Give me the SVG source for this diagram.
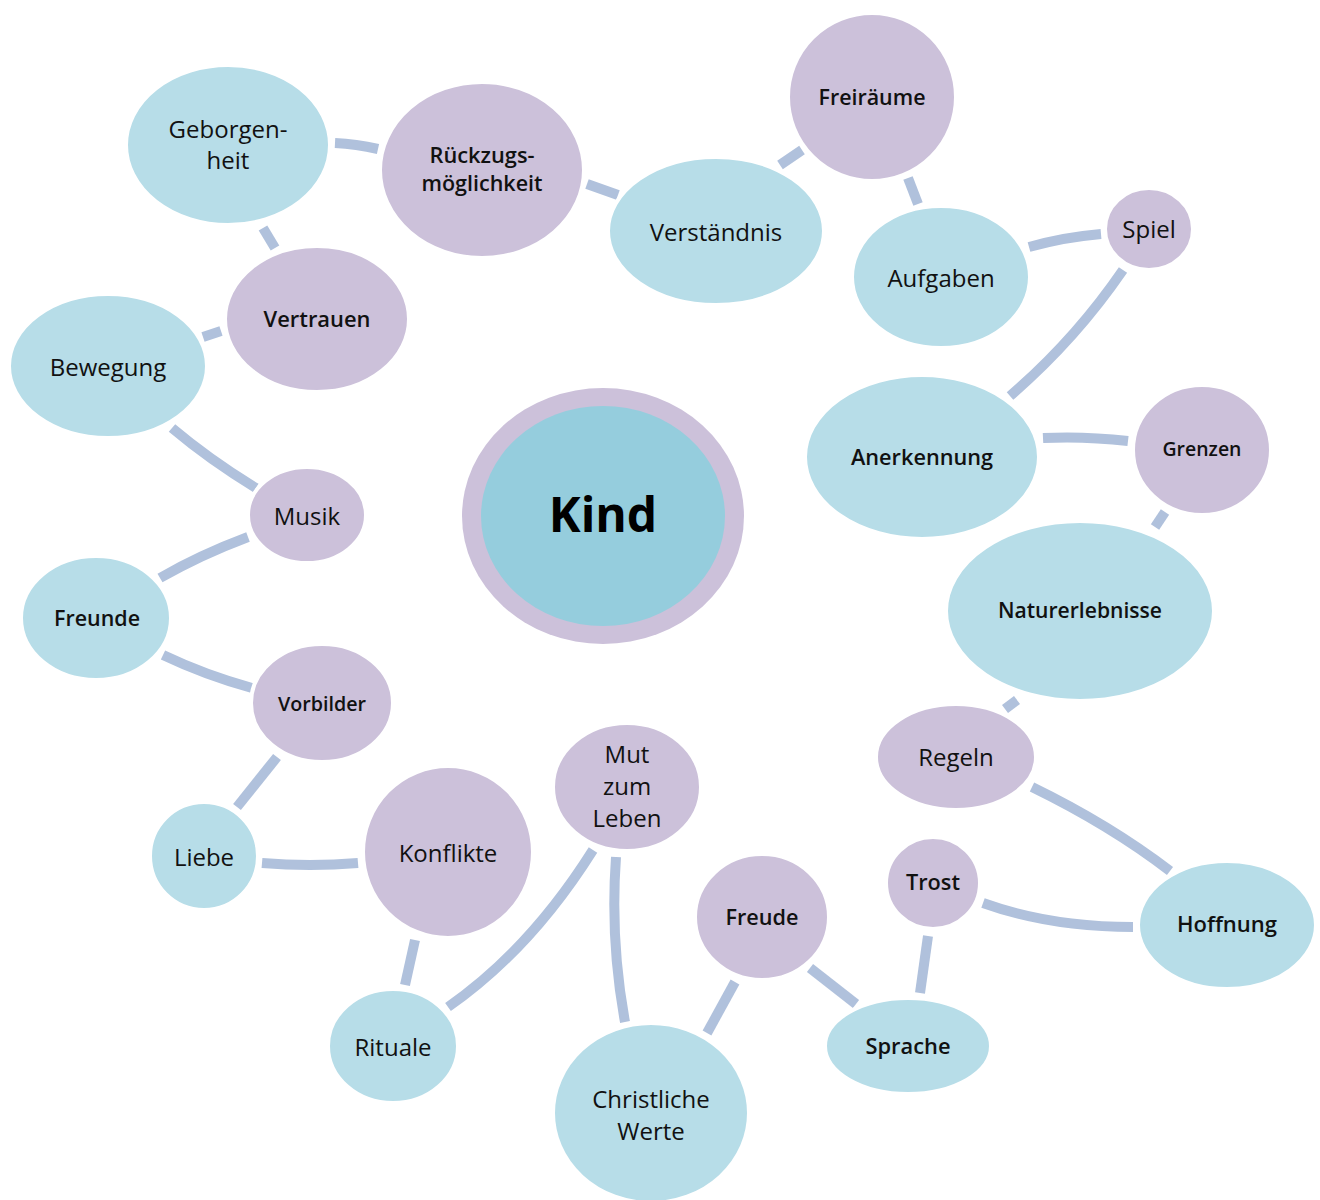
<svg xmlns="http://www.w3.org/2000/svg" width="1320" height="1200" viewBox="0 0 1320 1200">
<style>
.b{fill:#b7dde8;stroke:#fff;stroke-width:4}
.p{fill:#ccc1da;stroke:#fff;stroke-width:4}
.c{fill:none;stroke:#b0c1dc;stroke-width:10;stroke-linecap:butt}
text{font-family:"Open Sans","Liberation Sans",sans-serif;font-size:24px;fill:#111;text-anchor:middle;dominant-baseline:central}
.s{font-weight:600;font-size:21px}
.k{font-size:48px;font-weight:bold;fill:#000}
</style>
<rect width="1320" height="1200" fill="#fff"/>
<g id="connectors">
<path class="c" d="M335,143 Q356,144 378,149"/>
<path class="c" d="M587,184 L618,195"/>
<path class="c" d="M780,165 L802,150"/>
<path class="c" d="M908,178 L918,204"/>
<path class="c" d="M1029,247 Q1065,237 1101,234"/>
<path class="c" d="M1123,270 Q1075,340 1010,396"/>
<path class="c" d="M263,228 L275,248"/>
<path class="c" d="M203,337 L221,331"/>
<path class="c" d="M172,428 Q210,460 256,488"/>
<path class="c" d="M248,537 Q200,555 160,578"/>
<path class="c" d="M163,655 Q205,675 252,688"/>
<path class="c" d="M1043,438 Q1085,436 1128,441"/>
<path class="c" d="M1165,512 L1155,527"/>
<path class="c" d="M1017,700 L1005,709"/>
<path class="c" d="M277,757 L237,807"/>
<path class="c" d="M262,863 Q310,867 358,863"/>
<path class="c" d="M415,940 L405,985"/>
<path class="c" d="M593,850 Q530,950 448,1007"/>
<path class="c" d="M616,857 Q610,940 625,1022"/>
<path class="c" d="M735,982 L707,1033"/>
<path class="c" d="M810,968 L856,1004"/>
<path class="c" d="M928,936 L920,993"/>
<path class="c" d="M983,903 Q1050,927 1133,927"/>
<path class="c" d="M1032,787 Q1110,825 1170,871"/>
</g>
<g id="n-geborgenheit"><ellipse class="b" cx="228" cy="145" rx="102" ry="80"/><text x="228" y="128">Geborgen-</text><text x="228" y="159">heit</text></g>
<g id="n-rueckzug"><ellipse class="p" cx="482" cy="170" rx="102" ry="88"/><text class="s" x="482" y="155" textLength="105" lengthAdjust="spacingAndGlyphs">Rückzugs-</text><text class="s" x="482" y="183" textLength="121" lengthAdjust="spacingAndGlyphs">möglichkeit</text></g>
<g id="n-verstaendnis"><ellipse class="b" cx="716" cy="231" rx="108" ry="74"/><text x="716" y="231">Verständnis</text></g>
<g id="n-freiraeume"><ellipse class="p" cx="872" cy="97" rx="84" ry="84"/><text class="s" x="872" y="97" textLength="107" lengthAdjust="spacingAndGlyphs">Freiräume</text></g>
<g id="n-aufgaben"><ellipse class="b" cx="941" cy="277" rx="89" ry="71"/><text x="941" y="277">Aufgaben</text></g>
<g id="n-spiel"><ellipse class="p" cx="1149" cy="229" rx="44" ry="41"/><text x="1149" y="228">Spiel</text></g>
<g id="n-vertrauen"><ellipse class="p" cx="317" cy="319" rx="92" ry="73"/><text class="s" x="317" y="319" textLength="107" lengthAdjust="spacingAndGlyphs">Vertrauen</text></g>
<g id="n-bewegung"><ellipse class="b" cx="108" cy="366" rx="99" ry="72"/><text x="108" y="366">Bewegung</text></g>
<g id="n-kind"><ellipse cx="603" cy="516" rx="141" ry="128" fill="#ccc1da"/><ellipse cx="603" cy="516" rx="122" ry="110" fill="#95cddd"/><text class="k" x="603" y="513">Kind</text></g>
<g id="n-anerkennung"><ellipse class="b" cx="922" cy="457" rx="117" ry="82"/><text class="s" x="922" y="457" textLength="142" lengthAdjust="spacingAndGlyphs">Anerkennung</text></g>
<g id="n-grenzen"><ellipse class="p" cx="1202" cy="450" rx="69" ry="65"/><text class="s" x="1202" y="449" style="font-size:19px" textLength="79" lengthAdjust="spacingAndGlyphs">Grenzen</text></g>
<g id="n-natur"><ellipse class="b" cx="1080" cy="611" rx="134" ry="90"/><text class="s" x="1080" y="610" textLength="164" lengthAdjust="spacingAndGlyphs">Naturerlebnisse</text></g>
<g id="n-musik"><ellipse class="p" cx="307" cy="515" rx="59" ry="48"/><text x="307" y="515">Musik</text></g>
<g id="n-freunde"><ellipse class="b" cx="96" cy="618" rx="75" ry="62"/><text class="s" x="97" y="618" textLength="86" lengthAdjust="spacingAndGlyphs">Freunde</text></g>
<g id="n-vorbilder"><ellipse class="p" cx="322" cy="703" rx="71" ry="59"/><text class="s" x="322" y="703" style="font-size:20px" textLength="88" lengthAdjust="spacingAndGlyphs">Vorbilder</text></g>
<g id="n-regeln"><ellipse class="p" cx="956" cy="757" rx="80" ry="53"/><text x="956" y="756">Regeln</text></g>
<g id="n-liebe"><ellipse class="b" cx="204" cy="856" rx="54" ry="54"/><text x="204" y="856">Liebe</text></g>
<g id="n-konflikte"><ellipse class="p" cx="448" cy="852" rx="85" ry="86"/><text x="448" y="852">Konflikte</text></g>
<g id="n-mut"><ellipse class="p" cx="627" cy="787" rx="74" ry="64"/><text x="627" y="753">Mut</text><text x="627" y="785">zum</text><text x="627" y="817">Leben</text></g>
<g id="n-freude"><ellipse class="p" cx="762" cy="917" rx="67" ry="63"/><text class="s" x="762" y="917" textLength="73" lengthAdjust="spacingAndGlyphs">Freude</text></g>
<g id="n-trost"><ellipse class="p" cx="933" cy="883" rx="47" ry="46"/><text class="s" x="933" y="882" textLength="54" lengthAdjust="spacingAndGlyphs">Trost</text></g>
<g id="n-hoffnung"><ellipse class="b" cx="1227" cy="925" rx="89" ry="64"/><text class="s" x="1227" y="924" textLength="100" lengthAdjust="spacingAndGlyphs">Hoffnung</text></g>
<g id="n-rituale"><ellipse class="b" cx="393" cy="1046" rx="65" ry="57"/><text x="393" y="1046">Rituale</text></g>
<g id="n-christlich"><ellipse class="b" cx="651" cy="1113" rx="98" ry="90"/><text x="651" y="1098">Christliche</text><text x="651" y="1130">Werte</text></g>
<g id="n-sprache"><ellipse class="b" cx="908" cy="1046" rx="83" ry="48"/><text class="s" x="908" y="1046" textLength="85" lengthAdjust="spacingAndGlyphs">Sprache</text></g>
</svg>
